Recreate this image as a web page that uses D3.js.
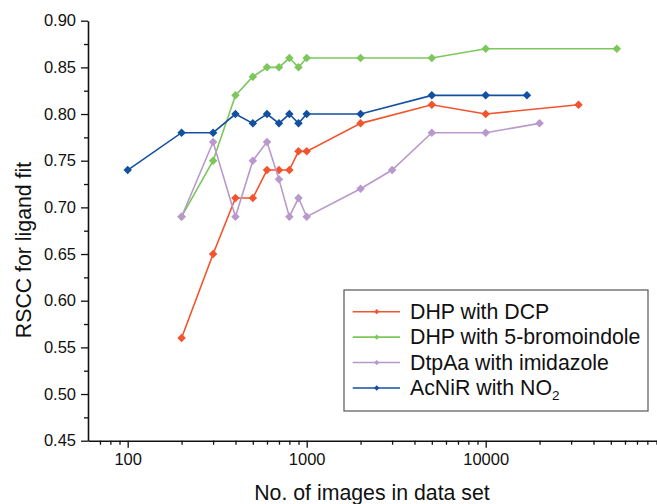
<!DOCTYPE html>
<html>
<head>
<meta charset="utf-8">
<script src="https://cdn.jsdelivr.net/npm/d3@7"></script>
<style>
  body { margin: 0; background: #fff; }
  text { font-family: "Liberation Sans", Arial, sans-serif; fill: #111; }
</style>
</head>
<body>
<div id="chart"></div>
<script>
const seriesNames = ["DHP with DCP", "DHP with 5-bromoindole", "DtpAa with imidazole", "AcNiR with NO"];
const seriesColors = ["#f2542d", "#7cc75b", "#b999cc", "#1450a0"];

const dcpX = [200, 300, 400, 500, 600, 700, 800, 900, 1000, 2000, 5000, 10000, 33000];
const dcpY = [0.56, 0.65, 0.71, 0.71, 0.74, 0.74, 0.74, 0.76, 0.76, 0.79, 0.81, 0.80, 0.81];

const bromoX = [200, 300, 400, 500, 600, 700, 800, 900, 1000, 2000, 5000, 10000, 54000];
const bromoY = [0.69, 0.75, 0.82, 0.84, 0.85, 0.85, 0.86, 0.85, 0.86, 0.86, 0.86, 0.87, 0.87];

const imidX = [200, 300, 400, 500, 600, 700, 800, 900, 1000, 2000, 3000, 5000, 10000, 20000];
const imidY = [0.69, 0.77, 0.69, 0.75, 0.77, 0.73, 0.69, 0.71, 0.69, 0.72, 0.74, 0.78, 0.78, 0.79];

const no2X = [100, 200, 300, 400, 500, 600, 700, 800, 900, 1000, 2000, 5000, 10000, 17000];
const no2Y = [0.74, 0.78, 0.78, 0.80, 0.79, 0.80, 0.79, 0.80, 0.79, 0.80, 0.80, 0.82, 0.82, 0.82];

const yTicks = [0.45, 0.50, 0.55, 0.60, 0.65, 0.70, 0.75, 0.80, 0.85, 0.90];
const xTicks = [100, 1000, 10000];

const seriesX = [dcpX, bromoX, imidX, no2X];
const seriesY = [dcpY, bromoY, imidY, no2Y];

const width = 657, height = 504;
const plotLeft = 88, plotTop = 20.7, plotBottom = 440.7;
const decade = 179, x100 = 127.7; // px per decade, position of 100

const svg = d3.select("#chart").append("svg")
    .attr("width", width)
    .attr("height", height);

const x = d3.scaleLog()
    .domain([100 * Math.pow(10, (plotLeft - x100) / decade), 100 * Math.pow(10, (width - x100) / decade)])
    .range([plotLeft, width]);

const y = d3.scaleLinear().domain([0.45, 0.90]).range([plotBottom, plotTop]);

// y axis
const minorY = d3.range(0.475, 0.9, 0.05);
svg.append("g")
    .attr("transform", `translate(${plotLeft},0)`)
    .call(d3.axisLeft(y).tickValues(minorY).tickSize(4).tickFormat(""))
    .call(g => g.select(".domain").remove())
    .call(g => g.selectAll("line").attr("stroke", "#111").attr("stroke-width", 1.3));
svg.append("g")
    .attr("transform", `translate(${plotLeft},0)`)
    .call(d3.axisLeft(y).tickValues(yTicks).tickSize(7).tickSizeOuter(0).tickPadding(5).tickFormat(d3.format(".2f")))
    .call(g => g.select(".domain").attr("stroke", "#111").attr("stroke-width", 1.6))
    .call(g => g.selectAll("line").attr("stroke", "#111").attr("stroke-width", 1.3))
    .call(g => g.selectAll("text").attr("font-size", 16.5).attr("fill", "#111"));

// x axis
const minorX = [];
for (let dec = 10; dec <= 100000; dec *= 10) {
  for (let k = 2; k <= 9; k++) {
    const v = dec * k;
    if (v >= x.domain()[0] && v <= x.domain()[1]) minorX.push(v);
  }
}
svg.append("g")
    .attr("transform", `translate(0,${plotBottom})`)
    .call(d3.axisBottom(x).tickValues(minorX).tickSize(4).tickFormat(""))
    .call(g => g.select(".domain").remove())
    .call(g => g.selectAll("line").attr("stroke", "#111").attr("stroke-width", 1.3));
svg.append("g")
    .attr("transform", `translate(0,${plotBottom})`)
    .call(d3.axisBottom(x).tickValues(xTicks).tickSize(7).tickSizeOuter(0).tickPadding(6).tickFormat(d3.format("d")))
    .call(g => g.select(".domain").attr("stroke", "#111").attr("stroke-width", 1.6))
    .call(g => g.selectAll("line").attr("stroke", "#111").attr("stroke-width", 1.3))
    .call(g => g.selectAll("text").attr("font-size", 16.5).attr("fill", "#111"));

// titles
svg.append("text")
    .attr("x", 372).attr("y", 500)
    .attr("text-anchor", "middle")
    .attr("font-size", 21.3)
    .text("No. of images in data set");
svg.append("text")
    .attr("transform", "translate(31,250) rotate(-90)")
    .attr("text-anchor", "middle")
    .attr("font-size", 21.3)
    .text("RSCC for ligand fit");

// series
const line = d3.line().x(d => x(d[0])).y(d => y(d[1]));
const diamond = d3.symbol().type(d3.symbolDiamond2).size(46);

seriesNames.forEach((name, i) => {
  const pts = seriesX[i].map((v, j) => [v, seriesY[i][j]]);
  const g = svg.append("g");
  g.append("path")
      .datum(pts)
      .attr("fill", "none")
      .attr("stroke", seriesColors[i])
      .attr("stroke-width", 1.6)
      .attr("d", line);
  g.selectAll("path.pt")
      .data(pts)
      .join("path")
      .attr("class", "pt")
      .attr("transform", d => `translate(${x(d[0])},${y(d[1])})`)
      .attr("fill", seriesColors[i])
      .attr("d", diamond);
});

// legend
const legend = svg.append("g");
legend.append("rect")
    .attr("x", 344).attr("y", 290)
    .attr("width", 304).attr("height", 121)
    .attr("fill", "#fff")
    .attr("stroke", "#555")
    .attr("stroke-width", 1.2);
const ly = d3.scalePoint().domain(seriesNames).range([311.7, 388]);
seriesNames.forEach((name, i) => {
  const yy = ly(name);
  legend.append("line")
      .attr("x1", 352.7).attr("x2", 400)
      .attr("y1", yy).attr("y2", yy)
      .attr("stroke", seriesColors[i])
      .attr("stroke-width", 1.6);
  legend.append("path")
      .attr("transform", `translate(376.7,${yy})`)
      .attr("fill", seriesColors[i])
      .attr("d", d3.symbol().type(d3.symbolDiamond2).size(18));
  const t = legend.append("text")
      .attr("x", 410).attr("y", yy + 7)
      .attr("font-size", 21.3)
      .text(name);
  if (i === 3) {
    t.append("tspan").attr("font-size", 13.5).attr("dy", 5).text("2");
  }
});
</script>
</body>
</html>
